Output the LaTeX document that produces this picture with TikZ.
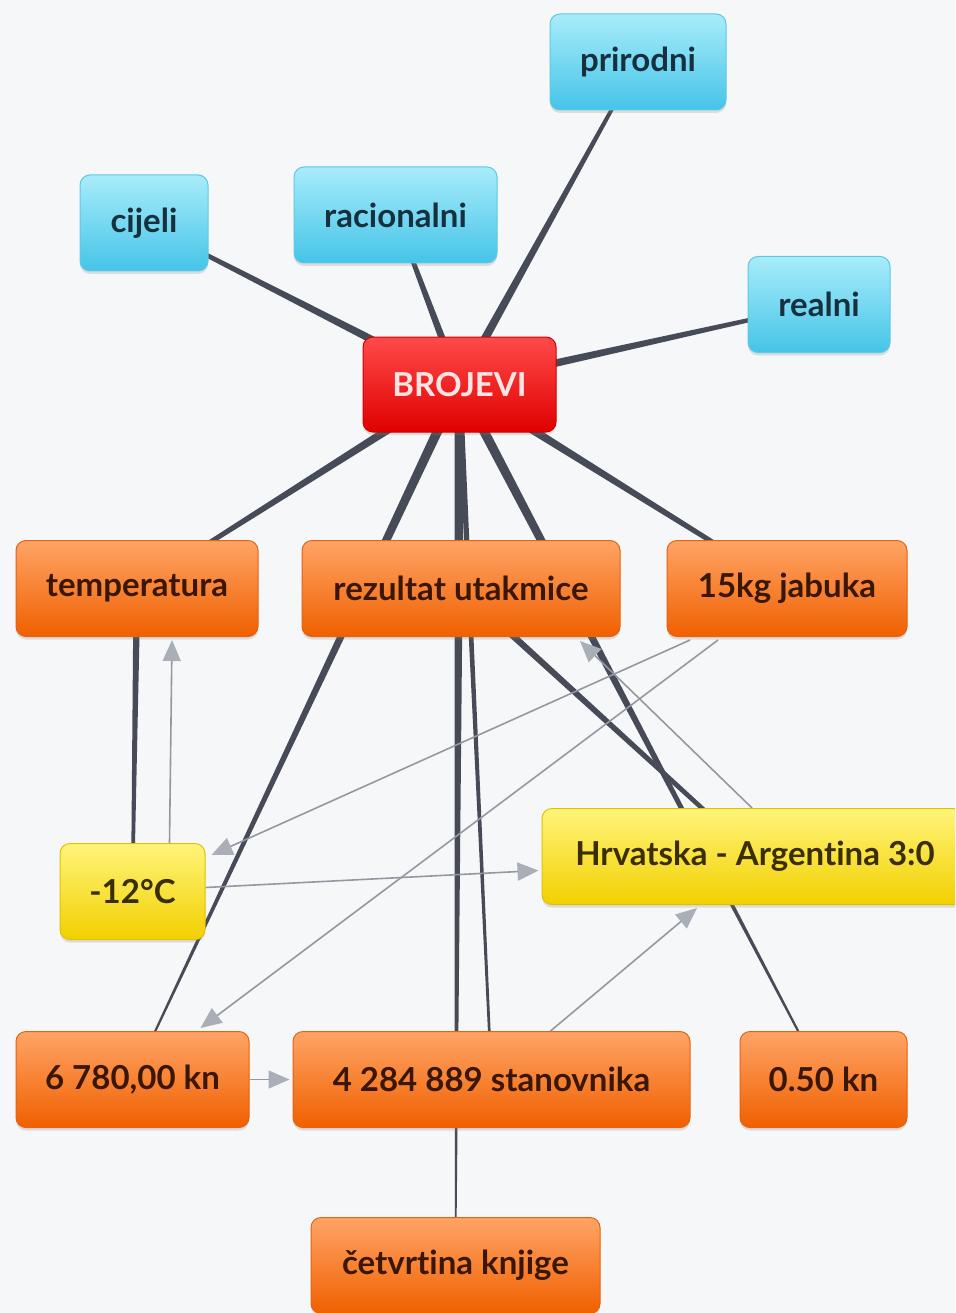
\documentclass[tikz,border=0pt]{standalone}
\usepackage{fontspec}
\setmainfont{Lato}[Ligatures={NoCommon,NoRare}]
\usetikzlibrary{calc,arrows.meta,shadows}
\pgfdeclarelayer{bg}
\pgfsetlayers{bg,main}
\definecolor{bgc}{HTML}{F6F7F8}
\definecolor{edgec}{HTML}{464B57}
\definecolor{thinc}{HTML}{9499A1}
\definecolor{tipc}{HTML}{A9AEB7}
\definecolor{bluetop}{HTML}{A8ECFA}
\definecolor{bluebot}{HTML}{45C4E8}
\definecolor{bluedraw}{HTML}{5CC9E8}
\definecolor{bluetext}{HTML}{16303F}
\definecolor{redtop}{HTML}{FF4A4A}
\definecolor{redbot}{HTML}{E00000}
\definecolor{reddraw}{HTML}{D10000}
\definecolor{redtext}{HTML}{FFE4E4}
\definecolor{ortop}{HTML}{FFA466}
\definecolor{ormid}{HTML}{FF7A22}
\definecolor{orbot}{HTML}{F06000}
\definecolor{ordraw}{HTML}{E5620E}
\definecolor{ortext}{HTML}{3A1604}
\definecolor{yetop}{HTML}{FFF47A}
\definecolor{yemid}{HTML}{FFE21A}
\definecolor{yebot}{HTML}{F2D000}
\definecolor{yedraw}{HTML}{E2C200}
\definecolor{yetext}{HTML}{3A2E00}
\tikzset{
  box/.style={rounded corners=10pt, minimum height=96pt, inner sep=0pt, line width=1pt,
    font=\fontsize{33}{36}\selectfont\bfseries,
    drop shadow={shadow xshift=0pt, shadow yshift=-3pt, opacity=0.22}},
  bluebox/.style={box, draw=bluedraw, top color=bluetop, bottom color=bluebot, text=bluetext},
  redbox/.style={box, draw=reddraw, top color=redtop, bottom color=redbot, text=redtext},
  orbox/.style={box, draw=ordraw, top color=ortop, middle color=ormid, bottom color=orbot, text=ortext},
  yebox/.style={box, draw=yedraw, top color=yetop, middle color=yemid, bottom color=yebot, text=yetext},
  thinarrow/.style={draw=thinc, line width=1.6pt, -{Triangle[length=21pt,width=18pt,color=tipc]}},
}
\newcommand\taperline[4]{\fill[edgec] ($(#1.center)!#3!90:(#2.center)$) -- ($(#2.center)!#4!-90:(#1.center)$) -- ($(#2.center)!#4!90:(#1.center)$) -- ($(#1.center)!#3!-90:(#2.center)$) -- cycle;}
\begin{document}
\begin{tikzpicture}[x=1pt,y=-1pt]
\begin{pgfonlayer}{bg}
\fill[bgc] (0,0) rectangle (955,1313);
\end{pgfonlayer}
\useasboundingbox (0,0) rectangle (955,1313);
\clip (0,0) rectangle (955,1313);
% nodes
\node[bluebox, minimum width=176pt] (prirodni) at (638,62) {prirodni};
\node[bluebox, minimum width=128pt] (cijeli) at (144,223) {cijeli};
\node[bluebox, minimum width=203pt] (racionalni) at (395.5,215) {racionalni};
\node[bluebox, minimum width=142pt] (realni) at (819,304.5) {realni};
\node[redbox, minimum width=193pt, minimum height=95pt] (brojevi) at (459.5,384.5) {BROJEVI};
\node[orbox, minimum width=242pt] (temp) at (137,588.5) {temperatura};
\node[orbox, minimum width=318pt] (rez) at (461,588.5) {rezultat utakmice};
\node[orbox, minimum width=240pt] (jab) at (787,588.5) {15kg jabuka};
\node[yebox, minimum width=145pt] (m12) at (132.5,891.5) {-12°C};
\node[yebox, minimum width=426pt] (hrv) at (755,856.5) {Hrvatska - Argentina 3:0};
\node[orbox, minimum width=233pt] (kn) at (132.5,1079.5) {6 780,00 kn};
\node[orbox, minimum width=397pt] (stan) at (491.5,1079.5) {4 284 889 stanovnika};
\node[orbox, minimum width=167pt] (pol) at (823.5,1079.5) {0.50 kn};
\node[orbox, minimum width=289pt] (cet) at (455.5,1265.5) {četvrtina knjige};
% connectors
\begin{pgfonlayer}{bg}
\taperline{brojevi}{cijeli}{4.5pt}{1.8pt}
\taperline{brojevi}{racionalni}{4pt}{1.8pt}
\taperline{brojevi}{prirodni}{4.5pt}{1.5pt}
\taperline{brojevi}{realni}{4.5pt}{1.6pt}
\taperline{brojevi}{temp}{4.5pt}{1.8pt}
\taperline{brojevi}{kn}{5pt}{0.8pt}
\taperline{brojevi}{cet}{5pt}{0.7pt}
\taperline{brojevi}{stan}{3pt}{1.2pt}
\taperline{brojevi}{pol}{5pt}{0.8pt}
\taperline{brojevi}{jab}{4.5pt}{1.8pt}
\taperline{rez}{hrv}{3.5pt}{2pt}
\taperline{temp}{m12}{3.5pt}{1.5pt}
\draw[thinarrow] ($(m12.north)+(37,0)$) -- ($(temp.south)+(35,3)$);
\draw[thinarrow] ($(jab.south)+(-97,3)$) -- ($(m12.north east)+(6,12)$);
\draw[thinarrow] ($(jab.south)+(-69,3)$) -- ($(kn.north)+(68,-3)$);
\draw[thinarrow] ($(m12.east)+(0,-4)$) -- ($(hrv.west)+(-3,14)$);
\draw[thinarrow] (kn.east) -- ($(stan.west)+(-3,0)$);
\draw[thinarrow] ($(stan.north)+(59,0)$) -- ($(hrv.south)+(-58,3)$);
\draw[thinarrow] ($(hrv.north)+(-3,0)$) -- ($(rez.south)+(119,4)$);
\end{pgfonlayer}
\end{tikzpicture}
\end{document}
